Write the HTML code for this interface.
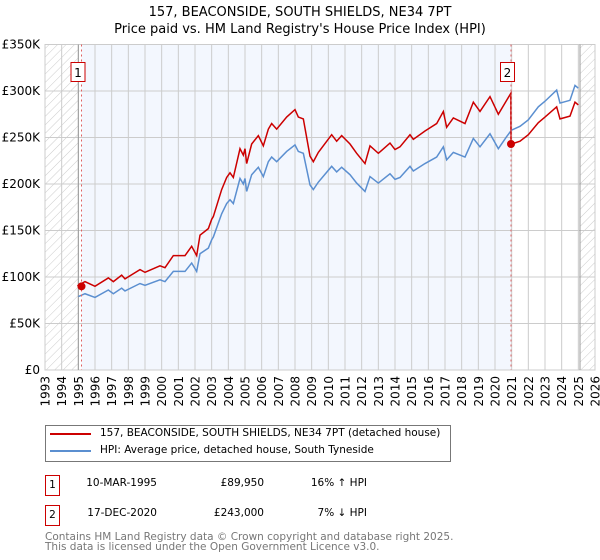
<!DOCTYPE html>
<html><head><meta charset="utf-8"><style>
body{margin:0;background:#fff;font-family:"DejaVu Sans","Liberation Sans",sans-serif;}
#wrap{position:relative;width:600px;height:560px;overflow:hidden}
.t{position:absolute;font-size:10.5px;color:#000;white-space:nowrap}
.r{text-align:right}
</style></head><body>
<div id="wrap">
<svg id="chart" width="600" height="420" style="position:absolute;left:0;top:0"></svg>
<div style="position:absolute;left:45px;top:425px;width:404px;height:35px;border:1px solid #777"></div>
<div style="position:absolute;left:50px;top:433px;width:41px;height:2px;background:#cc0000"></div>
<div class="t" style="left:100px;top:427px">157, BEACONSIDE, SOUTH SHIELDS, NE34 7PT (detached house)</div>
<div style="position:absolute;left:50px;top:450px;width:41px;height:2px;background:#5b8fd0"></div>
<div class="t" style="left:100px;top:444px">HPI: Average price, detached house, South Tyneside</div>
<div style="position:absolute;left:45px;top:475px;width:13px;height:19px;border:1px solid #c00;font-size:10.5px;text-align:center;line-height:19px">1</div>
<div class="t r" style="left:57px;width:100px;top:477px">10-MAR-1995</div>
<div class="t r" style="left:164px;width:100px;top:477px">£89,950</div>
<div class="t r" style="left:267px;width:100px;top:477px">16% ↑ HPI</div>
<div style="position:absolute;left:45px;top:505px;width:13px;height:19px;border:1px solid #c00;font-size:10.5px;text-align:center;line-height:19px">2</div>
<div class="t r" style="left:57px;width:100px;top:507px">17-DEC-2020</div>
<div class="t r" style="left:164px;width:100px;top:507px">£243,000</div>
<div class="t r" style="left:267px;width:100px;top:507px">7% ↓ HPI</div>
<div class="t" style="left:45px;top:532px;color:#777;line-height:10px">Contains HM Land Registry data © Crown copyright and database right 2025.<br>This data is licensed under the Open Government Licence v3.0.</div>
</div>
<script>
const hpiDates=[1995.0,1995.4,1996.0,1996.8,1997.1,1997.6,1997.8,1998.7,1999.0,1999.9,2000.2,2000.7,2001.4,2001.8,2002.1,2002.3,2002.8,2003.0,2003.1,2003.6,2003.9,2004.1,2004.3,2004.7,2004.9,2005.0,2005.1,2005.4,2005.8,2006.1,2006.4,2006.6,2006.9,2007.5,2008.0,2008.2,2008.5,2008.9,2009.1,2009.4,2010.2,2010.5,2010.8,2011.3,2011.7,2012.2,2012.5,2013.0,2013.7,2014.0,2014.3,2014.9,2015.1,2015.8,2016.5,2016.9,2017.1,2017.5,2018.2,2018.7,2019.1,2019.7,2020.2,2020.7,2020.95,2021.0,2021.5,2022.0,2022.6,2023.0,2023.7,2023.9,2024.5,2024.8,2025.0];
const hpiValues=[79,82,78,86,82,88,85,93,91,97,95,106,106,115,106,125,131,140,143,168,179,183,179,206,200,206,192,210,218,208,224,229,224,235,242,235,233,199,194,202,219,213,218,210,201,192,208,201,211,205,207,219,214,222,229,240,226,234,229,249,240,254,238,251,257,258,262,269,283,289,301,287,290,306,303];
const propDates=[1994.95,1995.0,1995.4,1996.0,1996.8,1997.1,1997.6,1997.8,1998.7,1999.0,1999.9,2000.2,2000.7,2001.4,2001.8,2002.1,2002.3,2002.8,2003.0,2003.1,2003.6,2003.9,2004.1,2004.3,2004.7,2004.9,2005.0,2005.1,2005.4,2005.8,2006.1,2006.4,2006.6,2006.9,2007.5,2008.0,2008.2,2008.5,2008.9,2009.1,2009.4,2010.2,2010.5,2010.8,2011.3,2011.7,2012.2,2012.5,2013.0,2013.7,2014.0,2014.3,2014.9,2015.1,2015.8,2016.5,2016.9,2017.1,2017.5,2018.2,2018.7,2019.1,2019.7,2020.2,2020.7,2020.95,2020.96,2021.0,2021.5,2022.0,2022.6,2023.0,2023.7,2023.9,2024.5,2024.8,2025.0];
const propValues=[90,91,95,90,99,95,102,98,108,105,112,110,123,123,133,123,145,152,162,165,194,207,212,207,238,231,238,222,243,252,241,259,265,259,272,280,272,270,230,224,234,253,246,252,243,233,222,241,233,244,237,240,253,248,257,265,278,261,271,265,288,278,294,275,290,297.5,243,243,246,253,266,272,283,270,273,288,285];
const saleDates=[1995.19,2020.96];
const saleValues=[89.95,243];
const saleLabels=["1","2"];
const yTicks=[0,50,100,150,200,250,300,350];
const yTickLabels=["£0","£50K","£100K","£150K","£200K","£250K","£300K","£350K"];
const xYears=[1993,1994,1995,1996,1997,1998,1999,2000,2001,2002,2003,2004,2005,2006,2007,2008,2009,2010,2011,2012,2013,2014,2015,2016,2017,2018,2019,2020,2021,2022,2023,2024,2025,2026];

const NS="http://www.w3.org/2000/svg";
const svg=document.getElementById('chart');
const L=45,R=595,T=44.5,B=370;
const x=yr=>L+(yr-1993)/(2026-1993)*(R-L);
const y=v=>B-v/350*(B-T);
function mk(tag,attrs,parent){const e=document.createElementNS(NS,tag);for(const k in attrs)e.setAttribute(k,attrs[k]);(parent||svg).appendChild(e);return e;}
const title=mk('text',{x:300,y:16,'text-anchor':'middle','font-size':13,'font-family':'DejaVu Sans, Liberation Sans, sans-serif'});


title.textContent='157, BEACONSIDE, SOUTH SHIELDS, NE34 7PT';
const sub=mk('text',{x:300,y:33,'text-anchor':'middle','font-size':13,'font-family':'DejaVu Sans, Liberation Sans, sans-serif'});


sub.textContent="Price paid vs. HM Land Registry's House Price Index (HPI)";
const defs=mk('defs',{});
const pat=mk('pattern',{id:'hatch',width:6,height:6,patternUnits:'userSpaceOnUse',patternTransform:'rotate(45)'},defs);
mk('line',{x1:0,y1:0,x2:0,y2:6,stroke:'#ccc','stroke-width':1},pat);
const own=mk('rect',{x:x(saleDates[0]),y:T,width:x(saleDates[1])-x(saleDates[0]),height:B-T,fill:'#f3f7fe'});


const h1=mk('rect',{x:L,y:T,width:x(1995)-L,height:B-T,fill:'url(#hatch)'});


const h2=mk('rect',{x:x(2025.1),y:T,width:R-x(2025.1),height:B-T,fill:'url(#hatch)'});


xYears.forEach(yr=>{
  const g=mk('line',{x1:x(yr),x2:x(yr),y1:T,y2:B,stroke:'#ccc','stroke-width':1});
  
  
  const t=mk('text',{x:0,y:0,'text-anchor':'end','font-size':12,'font-family':'DejaVu Sans, Liberation Sans, sans-serif',transform:'translate('+(x(yr)+4.5)+',376) rotate(-90)'});
  
  
  t.textContent=yr;
});
yTicks.forEach((v,i)=>{
  const g=mk('line',{x1:L,x2:R,y1:y(v),y2:y(v),stroke:'#ccc','stroke-width':1});
  
  
  const t=mk('text',{x:40,y:y(v)+4,'text-anchor':'end','font-size':12,'font-family':'DejaVu Sans, Liberation Sans, sans-serif'});
  
  
  t.textContent=yTickLabels[i];
});
mk('rect',{x:L,y:T,width:R-L,height:B-T,fill:'none',stroke:'#ccc'});
mk('line',{x1:x(1995),x2:x(1995),y1:T,y2:B,stroke:'#999'});
mk('line',{x1:x(2025.1),x2:x(2025.1),y1:T,y2:B,stroke:'#999'});
const hp=mk('polyline',{points:hpiDates.map((d,i)=>x(d)+','+y(hpiValues[i])).join(' '),fill:'none',stroke:'#5b8fd0','stroke-width':1.5});


const pp=mk('polyline',{points:propDates.map((d,i)=>x(d)+','+y(propValues[i])).join(' '),fill:'none',stroke:'#cc0000','stroke-width':1.5});


saleDates.forEach((d,i)=>{
  const v=mk('line',{x1:x(d),x2:x(d),y1:T,y2:B,stroke:'#e06060','stroke-width':1,'stroke-dasharray':'2,3'});
  
  
  const c=mk('circle',{cx:x(d),cy:y(saleValues[i]),r:4,fill:'#cc0000'});
  
  
  const bx=x(d)-10.5,by=62;
  const r=mk('rect',{x:bx,y:by+0.5,width:14,height:19,fill:'#fff',stroke:'#c00'});
  
  
  const t=mk('text',{x:bx+7,y:by+15,'text-anchor':'middle','font-size':12,'font-family':'DejaVu Sans, Liberation Sans, sans-serif'});
  
  
  t.textContent=saleLabels[i];
});
</script>
</body></html>
